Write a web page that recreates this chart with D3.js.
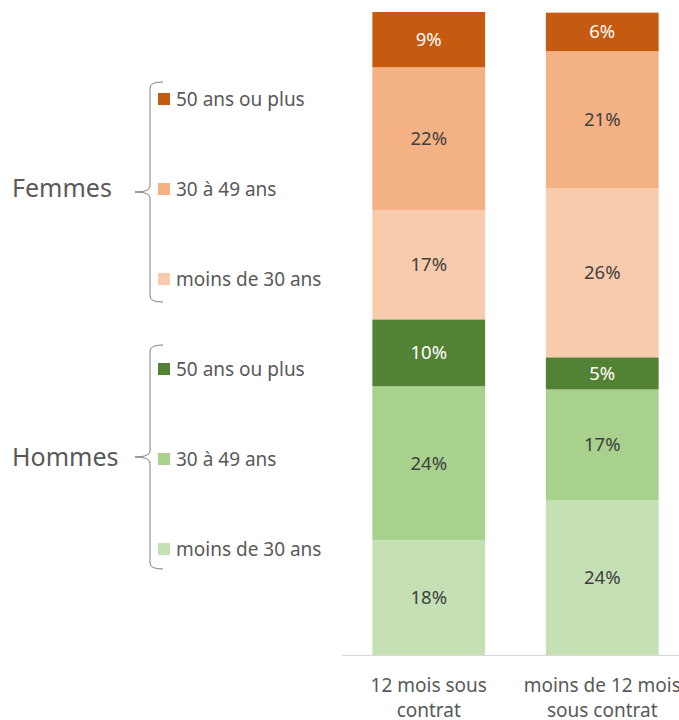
<!DOCTYPE html>
<html>
<head>
<meta charset="utf-8">
<script src="https://cdn.jsdelivr.net/npm/d3@7"></script>
<style>
  body { margin: 0; background: #fff; }
  svg { display: block; font-family: "Noto Sans", "Open Sans", sans-serif; }
</style>
</head>
<body>
<svg id="chart" width="679" height="720"></svg>
<script>
// categories (x axis)
const categories = ["12 mois sous contrat", "moins de 12 mois sous contrat"];
const categoryLines = [["12 mois sous", "contrat"], ["moins de 12 mois", "sous contrat"]];

// series, stacked from bottom to top
const seriesKeys = ["h_moins30", "h_30_49", "h_50plus", "f_moins30", "f_30_49", "f_50plus"];
const seriesLabels = ["moins de 30 ans", "30 à 49 ans", "50 ans ou plus", "moins de 30 ans", "30 à 49 ans", "50 ans ou plus"];
const seriesColors = ["#C5E0B4", "#A9D18E", "#548235", "#F8CBAD", "#F4B183", "#C55A11"];
const darkSeries = ["h_50plus", "f_50plus"];

// values in % (12 mois, moins de 12 mois)
const hMoins30 = [17.9, 24.1];
const h30_49 = [23.9, 17.2];
const h50plus = [10.4, 5.0];
const fMoins30 = [17.0, 26.3];
const f30_49 = [22.2, 21.3];
const f50plus = [8.6, 6.0];

const groups = ["Femmes", "Hommes"];

const seriesValues = [hMoins30, h30_49, h50plus, fMoins30, f30_49, f50plus];
const table = categories.map((c, i) => {
    const row = { cat: c };
    seriesKeys.forEach((k, j) => row[k] = seriesValues[j][i]);
    return row;
});

const svg = d3.select("#chart");
const textColor = "#595959";

const x = d3.scaleBand()
    .domain(categories)
    .range([342, 689])
    .paddingInner(0.35)
    .paddingOuter(0.175);

const y = d3.scaleLinear().domain([0, 100]).range([655, 12]);

const color = d3.scaleOrdinal().domain(seriesKeys).range(seriesColors);

const stacked = d3.stack().keys(seriesKeys)(table);

const layers = svg.append("g").selectAll("g")
    .data(stacked)
    .join("g")
    .attr("fill", d => color(d.key));

layers.selectAll("rect")
    .data(d => d.map(p => Object.assign(p, { key: d.key })))
    .join("rect")
    .attr("x", d => x(d.data.cat))
    .attr("width", x.bandwidth())
    .attr("y", d => y(d[1]))
    .attr("height", d => y(d[0]) - y(d[1]));

layers.selectAll("text")
    .data(d => d)
    .join("text")
    .attr("x", d => x(d.data.cat) + x.bandwidth() / 2)
    .attr("y", d => (y(d[0]) + y(d[1])) / 2)
    .attr("dy", "0.35em")
    .attr("text-anchor", "middle")
    .attr("font-size", 18.5)
    .attr("fill", d => darkSeries.includes(d.key) ? "#ffffff" : "#404040")
    .text(d => Math.round(d[1] - d[0]) + "%");

// x axis
svg.append("line")
    .attr("x1", x.range()[0]).attr("x2", x.range()[1])
    .attr("y1", y(0) + 0.5).attr("y2", y(0) + 0.5)
    .attr("stroke", "#d9d9d9")
    .attr("stroke-width", 1);

svg.append("g").selectAll("text")
    .data(categories)
    .join("text")
    .attr("x", d => x(d) + x.bandwidth() / 2)
    .attr("y", 685)
    .attr("text-anchor", "middle")
    .attr("font-size", 19)
    .attr("fill", textColor)
    .selectAll("tspan")
    .data((d, i) => categoryLines[i])
    .join("tspan")
    .attr("x", function () { return this.parentNode.getAttribute("x"); })
    .attr("dy", (d, i) => i === 0 ? "0.35em" : "25px")
    .text(d => d);

// legend, top to bottom
const legendOrder = seriesKeys.slice().reverse();
const legend = svg.append("g").selectAll("g")
    .data(legendOrder)
    .join("g")
    .attr("transform", (d, i) => `translate(158, ${99 + i * 90})`);

legend.append("rect")
    .attr("x", 0).attr("y", -6)
    .attr("width", 12).attr("height", 12)
    .attr("fill", d => color(d));

legend.append("text")
    .attr("x", 18)
    .attr("dy", "0.35em")
    .attr("font-size", 19)
    .attr("fill", textColor)
    .text(d => seriesLabels[seriesKeys.indexOf(d)]);

// braces + group names
const braces = [
    { name: groups[0], top: 82, bottom: 302, mid: 192, labelY: 188 },
    { name: groups[1], top: 345, bottom: 569, mid: 457, labelY: 457 }
];

function bracePath(b) {
    const xv = 150, xr = 163, xl = 135, r = 6;
    return `M${xr},${b.top} Q${xv},${b.top} ${xv},${b.top + r}
            L${xv},${b.mid - r} Q${xv},${b.mid} ${xl},${b.mid}
            Q${xv},${b.mid} ${xv},${b.mid + r}
            L${xv},${b.bottom - r} Q${xv},${b.bottom} ${xr},${b.bottom}`;
}

svg.append("g").selectAll("path")
    .data(braces)
    .join("path")
    .attr("d", bracePath)
    .attr("fill", "none")
    .attr("stroke", "#7f7f7f")
    .attr("stroke-width", 1);

svg.append("g").selectAll("text")
    .data(braces)
    .join("text")
    .attr("x", 12)
    .attr("y", d => d.labelY)
    .attr("dy", "0.35em")
    .attr("font-size", 25)
    .attr("fill", textColor)
    .text(d => d.name);
</script>
</body>
</html>
